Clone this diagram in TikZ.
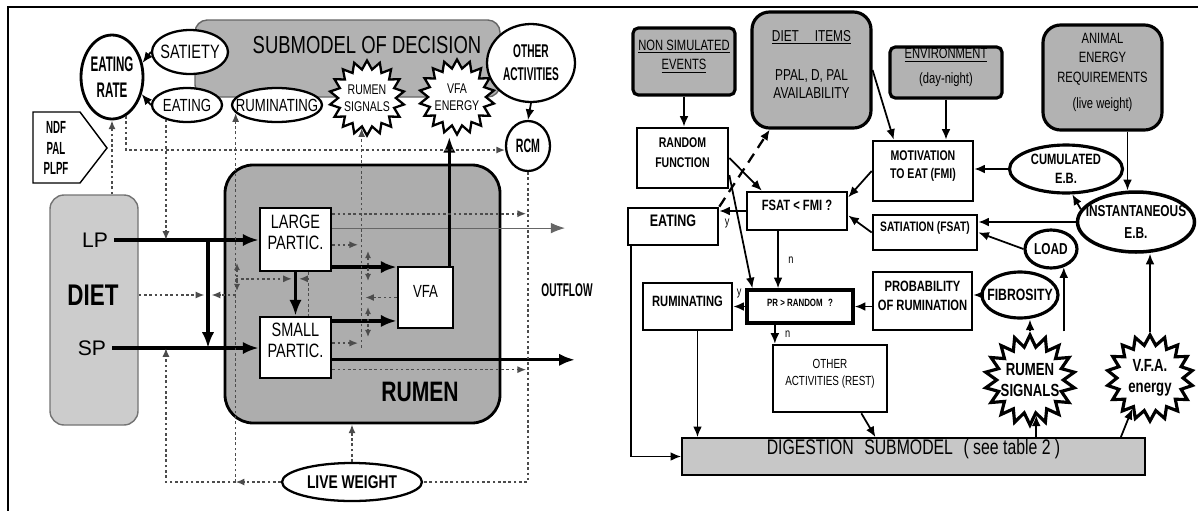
\documentclass[tikz,border=0pt]{standalone}
\usepackage{fontspec}
\setsansfont{Liberation Sans}
\newfontfamily\cnd[FakeStretch=0.75]{Liberation Sans}
\newfontfamily\cndx[FakeStretch=0.55]{Liberation Sans}
\usetikzlibrary{arrows.meta,shapes.geometric,fit,calc}

\tikzset{
  box/.style={draw, line width=1.5pt, fill=white, inner sep=0pt, align=center},
  gbox/.style={box, fill=black!30, rounded corners=3pt},
  oval/.style={draw, ellipse, line width=1.3pt, fill=white, inner sep=0pt},
  burst/.style={draw, star, star points=18, star point ratio=1.3, line width=1.3pt, fill=white, inner sep=0pt},
  inl/.style 2 args={label={[align=center, inner sep=0pt, font=#1]center:{#2}}},
  arr/.style={-{Latex[length=6pt,width=5pt]}, line width=1pt},
  harr/.style={-{Latex[length=9pt,width=7pt]}, line width=1.8pt},
  dots/.style={dash pattern=on 1.5pt off 1.5pt, line width=0.9pt, black!70},
  darr/.style={dots, -{Latex[length=5pt,width=4pt]}},
  dmark/.style={dots, {Latex[length=4pt,width=3.5pt]}-{Latex[length=4pt,width=3.5pt]}},
}

\begin{document}
\begin{tikzpicture}[x=0.02cm, y=-0.02cm]
\useasboundingbox (0,0) rectangle (1198,511);
\draw[line width=1.6pt] (8,511) -- (8,7) -- (1198,7);

%------------------------------------- decision
\node[fit={(195,20) (500,97)}, inner sep=0pt, draw=black!60, thick, fill=black!30, rounded corners=7pt] (decision) {};
\node[font=\cnd\fontsize{14}{16}\selectfont] (dectxt) at (367,45) {SUBMODEL OF DECISION};

\node[oval, line width=1.6pt, minimum width=1.24cm, minimum height=1.68cm, inl={\cndx\bfseries\fontsize{12}{14.5}\selectfont}{EATING\\RATE}] (eatrate) at (112,77) {};
\node[oval, minimum width=1.52cm, minimum height=0.88cm, inl={\cnd\fontsize{11}{13}\selectfont}{SATIETY}] (satiety) at (190,52) {};
\node[oval, minimum width=1.4cm, minimum height=0.68cm, inl={\cnd\fontsize{10}{12}\selectfont}{EATING}] (eating) at (187,105) {};
\node[oval, minimum width=1.8cm, minimum height=0.68cm, inl={\cnd\fontsize{10}{12}\selectfont}{RUMINATING}] (rumin) at (277,105) {};
\node[burst, minimum size=1.5cm, inl={\cnd\fontsize{8}{9.5}\selectfont}{RUMEN\\SIGNALS}] (rsig) at (367,98) {};
\node[burst, minimum size=1.5cm, inl={\cnd\fontsize{8}{9.5}\selectfont}{VFA\\ENERGY}] (vfaen) at (457,97) {};
\node[oval, minimum width=1.76cm, minimum height=1.56cm, inl={\cndx\bfseries\fontsize{10.5}{13}\selectfont}{OTHER\\ACTIVITIES}] (other) at (531,63) {};
\node[oval, minimum width=0.88cm, minimum height=1cm, inl={\cndx\bfseries\fontsize{11}{13}\selectfont}{RCM}] (rcm) at (528,146) {};

%------------------------------------- diet and rumen
\draw[thick, fill=white] (33,112) -- (80,112) -- (107,148) -- (80,183) -- (33,183) -- cycle;
\node[font=\cndx\bfseries\fontsize{10}{11.5}\selectfont, align=center] (nutr) at (56,148) {NDF\\PAL\\PLPF};

\node[fit={(50,195) (138,425)}, inner sep=0pt, draw=black!55, thick, fill=black!20, rounded corners=8pt] (diet) {};
\node[font=\sffamily\fontsize{12}{14}\selectfont] (lp) at (95,240) {LP};
\node[font=\cnd\bfseries\fontsize{17}{20}\selectfont] (dietlbl) at (93,295) {DIET};
\node[font=\sffamily\fontsize{12}{14}\selectfont] (sp) at (92,348) {SP};

\node[fit={(225,165) (500,423)}, inner sep=0pt, draw, line width=1.6pt, fill=black!32, rounded corners=16pt] (rumen) {};
\node[font=\cnd\bfseries\fontsize{16}{19}\selectfont] (rumlbl) at (420,392) {RUMEN};

\node[box, fit={(260,208) (331,271)}, font=\cnd\fontsize{11}{12}\selectfont] (large) {LARGE\\PARTIC.};
\node[box, fit={(260,317) (331,378)}, font=\cnd\fontsize{11}{12}\selectfont] (small) {SMALL\\PARTIC.};
\node[box, fit={(398,267) (453,328)}, font=\cnd\fontsize{10}{12}\selectfont] (vfa) {VFA};
\node[font=\cndx\bfseries\fontsize{10.5}{12}\selectfont] (outflow) at (567,290) {OUTFLOW};
\node[oval, minimum width=2.8cm, minimum height=0.76cm, inl={\cnd\bfseries\fontsize{10.5}{12}\selectfont}{LIVE WEIGHT}] (lw) at (352,482) {};

\coordinate (split) at (208,240);
\coordinate (out1) at (565,228);
\coordinate (out2) at (575,360);
\coordinate (mid) at ($(large.south)!0.15!(small.north)$);
\coordinate (lsq) at ($(large.south)!0.35!(large.south east)$);
\coordinate (g1) at (368,266);
\coordinate (g2) at (368,322);
\coordinate (g3) at (237,277);

% flows
\draw[harr] (lp.east) -- (lp.east -| large.west);
\draw[harr] (sp.east) -- (sp.east -| small.west);
\draw[harr] (split) -- (split |- sp.east);
\draw[harr] (large.south) -- (small.north);
\draw[harr] ([yshift=3pt]large.south east) -- ([yshift=3pt]large.south east -| vfa.west);
\draw[harr] ([yshift=-3pt]small.north east) -- ([yshift=-3pt]small.north east -| vfa.west);
\draw[harr] ([yshift=-7pt]small.east) -- ([yshift=-7pt]small.east -| out2);
\draw[-{Latex[length=8pt,width=6pt]}, line width=0.6pt, black!60] ([yshift=6.5pt]large.east) -- ([yshift=6.5pt]large.east -| out1);
\draw[harr] ([xshift=-0.1cm]vfa.north east) -- ([xshift=-0.1cm]vfa.north east |- vfaen.south);
\draw[arr] (satiety.west) -- (eatrate.25);
\draw[arr] (eating.west) -- (eatrate.-30);
\draw[arr] (other.south) -- (rcm.north);

% controls
\draw[darr] (lw.north) -- (lw.north |- rumen.south);
\draw[darr] (eatrate.south |- diet.north) -- (eatrate.south);
\draw[darr] (eatrate.-70) |- (rcm.190);
\draw[darr] (eating.-145) -- (eating.-145 |- lp.east);
\draw[darr] (lw.west) -- (rumin.-169 |- lw.west);
\draw[darr] (rumin.-169 |- lw.west) -- (rumin.-169);
\draw[darr] (rumin.-169 |- lw.west) -| (eating.-145 |- sp.east);
\draw[dots] (rcm.south) |- (lw.east);
\draw[darr, shorten >=2pt] (diet.east |- dietlbl) -- (split |- dietlbl);
\draw[darr, shorten >=2pt] (rumin.-169 |- dietlbl) -- (split |- dietlbl);
\draw[darr, shorten >=2pt] (rumin.-169 |- mid) -- (mid);
\draw[dots] (lsq) -- (lsq |- small.north);
\draw[darr, shorten >=2pt] (lsq |- mid) -- (mid);
\draw[darr] (rsig.-100 |- small.east) -- (rsig.-100);
\draw[darr, shorten >=2pt] (vfa.west) -- (vfa.west -| rsig.-100);
\draw[darr, shorten >=2pt] ([yshift=-3pt]large.east) -- ([yshift=-3pt]large.east -| rsig.-100);
\draw[darr, shorten >=2pt] ([yshift=2.5pt]small.east) -- ([yshift=2.5pt]small.east -| rsig.-100);
\draw[darr, shorten >=1pt] ([yshift=-4pt]large.north east) -- ([yshift=-4pt]large.north east -| rcm.south);
\draw[darr, shorten >=1pt] ([yshift=5.5pt]small.south east) -- ([yshift=5.5pt]small.south east -| rcm.south);
\draw[dmark] ($(g1)+(0,-15)$) -- ($(g1)+(0,15)$);
\draw[dmark] ($(g2)+(0,-15)$) -- ($(g2)+(0,15)$);
\draw[dmark] ($(g3)+(0,-14)$) -- ($(g3)+(0,14)$);

%------------------------------------- right: decision rules
\node[gbox, fit={(633,28) (735,95)}, line width=1.8pt, font=\cnd\fontsize{8.5}{11}\selectfont] (nse) {\underline{NON SIMULATED}\\\underline{EVENTS}};
\node[gbox, fit={(752,12) (871,128)}, line width=1.8pt, rounded corners=10pt, font=\cnd\fontsize{9}{10.5}\selectfont] (ditems) {\underline{DIET\quad ITEMS}\\[12pt]PPAL, D, PAL\\AVAILABILITY};
\node[gbox, fit={(890,47) (1002,98)}, line width=1.8pt, font=\cnd\fontsize{8.5}{10}\selectfont] (env) {\underline{ENVIRONMENT}\\[4pt](day-night)};
\node[gbox, fit={(1043,25) (1162,130)}, line width=1.8pt, rounded corners=10pt, font=\cnd\fontsize{8.5}{11}\selectfont] (aer) {ANIMAL\\ENERGY\\REQUIREMENTS\\[4pt](live weight)};

\node[box, fit={(637,128) (728,188)}, font=\cnd\bfseries\fontsize{8}{11.4}\selectfont] (randf) {RANDOM\\FUNCTION};
\node[box, fit={(628,208) (718,245)}, font=\cnd\bfseries\fontsize{9.5}{11}\selectfont] (eatb) {EATING};
\node[box, fit={(747,192) (847,230)}, font=\cnd\bfseries\fontsize{8.5}{10}\selectfont] (fsat) {FSAT < FMI ?};
\node[box, fit={(873,141) (973,201)}, font=\cnd\bfseries\fontsize{8}{10.2}\selectfont] (motiv) {MOTIVATION\\TO EAT (FMI)};
\node[box, fit={(873,215) (977,250)}, font=\cnd\bfseries\fontsize{7.8}{9}\selectfont] (satia) {SATIATION (FSAT)};
\node[oval, line width=1.8pt, minimum width=2.26cm, minimum height=0.96cm, inl={\cnd\bfseries\fontsize{8.5}{11}\selectfont}{CUMULATED\\E.B.}] (cumeb) at (1066,169) {};
\node[oval, line width=2pt, minimum width=2.34cm, minimum height=1.2cm, inl={\cnd\bfseries\fontsize{9}{12}\selectfont}{INSTANTANEOUS\\E.B.}] (insteb) at (1136,222) {};
\node[oval, line width=1.8pt, minimum width=1.04cm, minimum height=0.76cm, inl={\cnd\bfseries\fontsize{9}{10}\selectfont}{LOAD}] (load) at (1051,249) {};
\node[box, fit={(873,272) (972,330)}, font=\cnd\bfseries\fontsize{8.5}{10.5}\selectfont] (prob) {PROBABILITY\\OF RUMINATION};
\node[oval, line width=1.8pt, minimum width=1.52cm, minimum height=0.92cm, inl={\cnd\bfseries\fontsize{9.3}{11}\selectfont}{FIBROSITY}] (fib) at (1020,295) {};
\node[box, fit={(747,290) (853,323)}, line width=2pt, font=\cnd\bfseries\fontsize{6}{7}\selectfont] (prr) {PR > RANDOM\enspace ?};
\node[box, fit={(643,283) (732,330)}, font=\cnd\bfseries\fontsize{8.5}{10}\selectfont] (rumb) {RUMINATING};
\node[box, fit={(773,345) (887,412)}, font=\cnd\fontsize{7.5}{10}\selectfont] (otherb) {OTHER\\ACTIVITIES (REST)};
\node[fit={(682,438) (1145,475)}, inner sep=0pt, draw, line width=1pt, fill=black!22, font=\cnd\fontsize{12}{14}\selectfont] (dig) {DIGESTION\enspace SUBMODEL\enspace ( see table 2 )};
\node[burst, line width=1.8pt, minimum size=1.8cm, star point ratio=1.35, inl={\cnd\bfseries\fontsize{10}{12}\selectfont}{RUMEN\\SIGNALS}] (rsig2) at (1030,380) {};
\node[burst, line width=1.8pt, minimum size=1.72cm, inl={\cnd\bfseries\fontsize{10}{12}\selectfont}{V.F.A.\\energy}] (vfae2) at (1150,378) {};

\draw[arr] (nse.south) -- (nse.south |- randf.north);
\draw[arr] (randf.east) -- (fsat.150);
\draw[arr] (randf.-20) -- (prr.159);
\draw[arr, dash pattern=on 6pt off 4pt, line width=1.3pt] (eatb.north east) -- (ditems.-125);
\draw[arr] (fsat.west) -- (fsat.west -| eatb.east) node[pos=0.7, below=1pt, font=\cnd\fontsize{7}{8}\selectfont] (yes1) {y};
\draw[arr] (fsat.-133) -- (fsat.-133 |- prr.north) node[midway, right=2pt, font=\cnd\fontsize{7}{8}\selectfont] (no1) {n};
\draw[arr] (motiv.west) -- (fsat.15);
\draw[arr] (satia.west) -- (fsat.-5);
\draw[arr] (ditems.east) -- (motiv.133);
\draw[arr] (env.south) -- (env.south |- motiv.north);
\draw[arr] (cumeb.west) -- (cumeb.west -| motiv.east);
\draw[arr] ([xshift=0.5cm]aer.south) -- ([xshift=0.5cm]aer.south |- insteb.north);
\draw[arr] (insteb.167) -- (cumeb.-76);
\draw[arr] (insteb.west) -- (insteb.west -| satia.east);
\draw[arr] (load.west) -- (satia.east);
\draw[arr] (fib.west) -- (fib.west -| prob.east);
\draw[arr] (prr.east -| prob.west) -- (prr.east);
\draw[arr] (prr.west) -- (prr.west -| rumb.east) node[midway, above=1pt, font=\cnd\fontsize{7}{8}\selectfont] (yes2) {y};
\draw[arr] (prr.-144) -- (prr.-144 |- otherb.north) node[midway, right=2pt, font=\cnd\fontsize{7}{8}\selectfont] (no2) {n};
\draw[arr] ([xshift=0.2cm]rumb.south) -- ([xshift=0.2cm]rumb.south |- dig.north);
\draw[arr] ([xshift=0.08cm]eatb.south west) |- (dig.west);
\draw[arr] (otherb.-48) -- (dig.153);
\draw[arr] (rsig2.-80 |- dig.north) -- (rsig2.-80);
\draw[arr] ([xshift=-0.5cm]dig.north east) -- (vfae2.-120);
\draw[arr] (rsig2.north) -- (rsig2.north |- fib.south);
\draw[arr] (load.-55 |- rsig2.north) -- (load.-55);
\draw[arr] (vfae2.north) -- (vfae2.north |- insteb.south);
\end{tikzpicture}
\end{document}
